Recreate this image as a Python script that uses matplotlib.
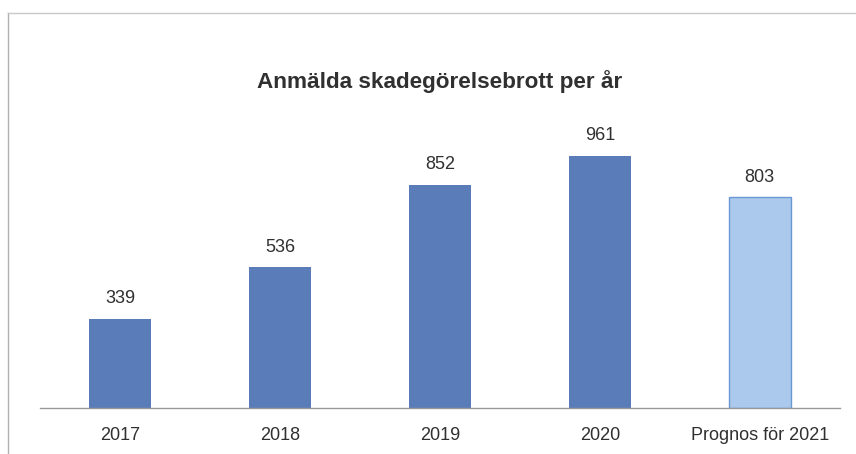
import matplotlib.pyplot as plt
from matplotlib.lines import Line2D

categories = ['2017', '2018', '2019', '2020', 'Prognos för 2021']
values = [339, 536, 852, 961, 803]
forecast = [False, False, False, False, True]

plt.rcParams['font.family'] = ['Liberation Sans', 'DejaVu Sans']


def main():
    fig = plt.figure(figsize=(8.56, 4.54), dpi=100)
    ax = fig.add_axes([0.0467, 0.1013, 0.9343, 0.693])

    dark = '#5a7dba'
    light = '#aac9ec'
    for i, (v, f) in enumerate(zip(values, forecast)):
        if f:
            ax.bar(i, v, width=0.39, color=light, edgecolor='#6a98d2', linewidth=1)
        else:
            ax.bar(i, v, width=0.39, color=dark)
        ax.text(i, v + 45, str(v), ha='center', va='bottom', fontsize=13, color='#303030')

    ax.set_xlim(-0.5, len(values) - 0.5)
    ax.set_ylim(0, 1200)
    ax.set_xticks(range(len(categories)))
    ax.set_xticklabels(categories, fontsize=13, color='#303030')
    ax.tick_params(axis='x', length=0, pad=14)
    ax.set_yticks([])
    for s in ['top', 'right', 'left']:
        ax.spines[s].set_visible(False)
    ax.spines['bottom'].set_color('#9a9a9a')
    ax.spines['bottom'].set_linewidth(1)

    fig.text(0.514, 0.806, 'Anmälda skadegörelsebrott per år', ha='center', va='baseline',
             fontsize=16.2, fontweight='bold', color='#303030')

    # frame of the scanned chart area
    fig.add_artist(Line2D([8 / 856, 8 / 856], [0, 1 - 13 / 454], transform=fig.transFigure,
                          color='#b0b0b0', linewidth=1))
    fig.add_artist(Line2D([8 / 856, 1], [1 - 13 / 454, 1 - 13 / 454], transform=fig.transFigure,
                          color='#c8c8c8', linewidth=1))

    fig.savefig('out.png', dpi=100)


if __name__ == "__main__":
    main()
